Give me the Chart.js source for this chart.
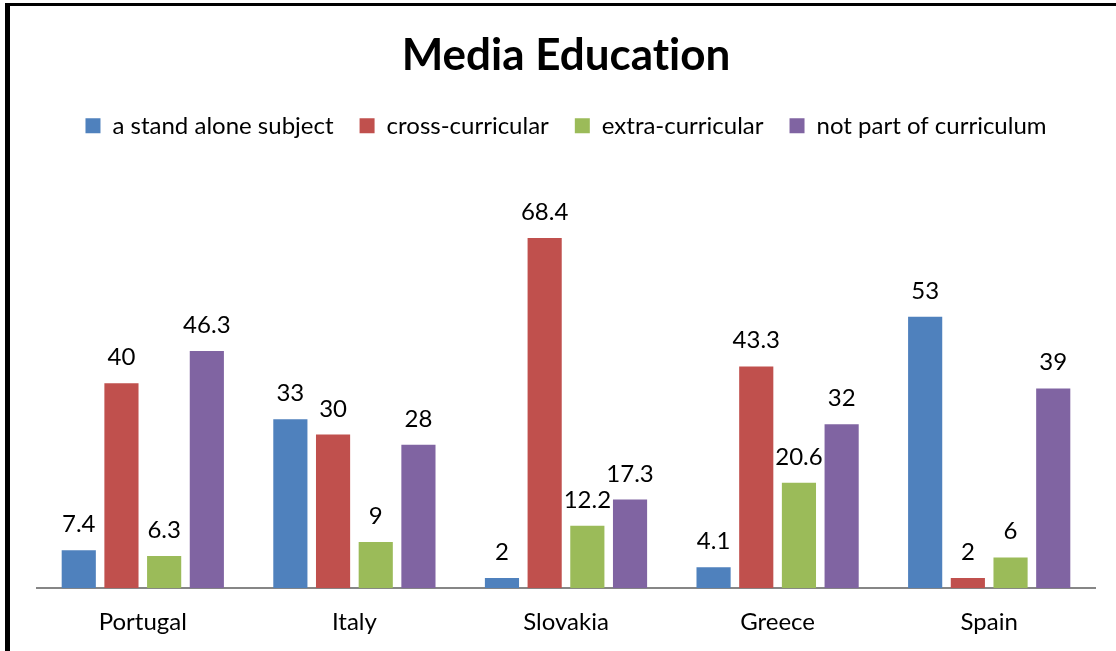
<!DOCTYPE html>
<html>
<head>
<meta charset="utf-8">
<script src="https://cdn.jsdelivr.net/npm/chart.js@4"></script>
<style>
  html, body { margin: 0; padding: 0; background: #fff; }
  #wrap { position: relative; width: 1116px; height: 651px; overflow: hidden; }
  #frame {
    position: absolute; left: 5px; top: 3px; right: -10px; bottom: -10px;
    border-left: 5px solid #000; border-top: 3px solid #000;
    pointer-events: none;
  }
</style>
</head>
<body>
<div id="wrap">
  <canvas id="mediaChart" width="1116" height="651"></canvas>
  <div id="frame"></div>
</div>
<script>
// Data
const countries = ["Portugal", "Italy", "Slovakia", "Greece", "Spain"];
const standAlone = [7.4, 33, 2, 4.1, 53];
const crossCurricular = [40, 30, 68.4, 43.3, 2];
const extraCurricular = [6.3, 9, 12.2, 20.6, 6];
const notPart = [46.3, 28, 17.3, 32, 39];

const FONT = "Lato, 'Open Sans', sans-serif";

// No ligatures (Lato turns "ti" into one glyph)
const noLigatures = {
  id: "noLigatures",
  beforeDraw(chart) {
    chart.ctx.textRendering = "optimizeSpeed";
  },
};

// Value labels above bars
const barLabels = {
  id: "barLabels",
  afterDatasetsDraw(chart) {
    const ctx = chart.ctx;
    ctx.save();
    ctx.font = "24px " + FONT;
    ctx.fillStyle = "#000";
    ctx.textAlign = "center";
    ctx.textBaseline = "alphabetic";
    chart.data.datasets.forEach((ds, i) => {
      chart.getDatasetMeta(i).data.forEach((bar, j) => {
        ctx.fillText(String(ds.data[j]), bar.x, bar.y - 18);
      });
    });
    ctx.restore();
  },
};

const ctx = document.getElementById("mediaChart").getContext("2d");
new Chart(ctx, {
  type: "bar",
  data: {
    labels: countries,
    datasets: [
      { label: "a stand alone subject", data: standAlone, backgroundColor: "#4F81BD" },
      { label: "cross-curricular", data: crossCurricular, backgroundColor: "#C0504D" },
      { label: "extra-curricular", data: extraCurricular, backgroundColor: "#9BBB59" },
      { label: "not part of curriculum", data: notPart, backgroundColor: "#8064A2" },
    ],
  },
  options: {
    responsive: false,
    animation: false,
    layout: { padding: { left: 37, right: 21, top: 0, bottom: -6 } },
    categoryPercentage: 0.807,
    barPercentage: 0.8,
    plugins: {
      title: {
        display: true,
        text: "Media Education",
        color: "#000",
        font: { family: FONT, size: 44, weight: "bold" },
        padding: { top: 29, bottom: 6 },
      },
      legend: {
        labels: {
          color: "#000",
          font: { family: FONT, size: 24 },
          boxWidth: 15,
          boxHeight: 15,
          padding: 26,
        },
      },
      tooltip: { enabled: false },
    },
    scales: {
      x: {
        grid: { display: false, drawTicks: false },
        border: { display: true, color: "#868686", width: 2 },
        ticks: { color: "#000", font: { family: FONT, size: 24 }, padding: 20 },
      },
      y: {
        display: false,
        min: 0,
        max: 86,
      },
    },
  },
  plugins: [noLigatures, barLabels],
});
</script>
</body>
</html>
